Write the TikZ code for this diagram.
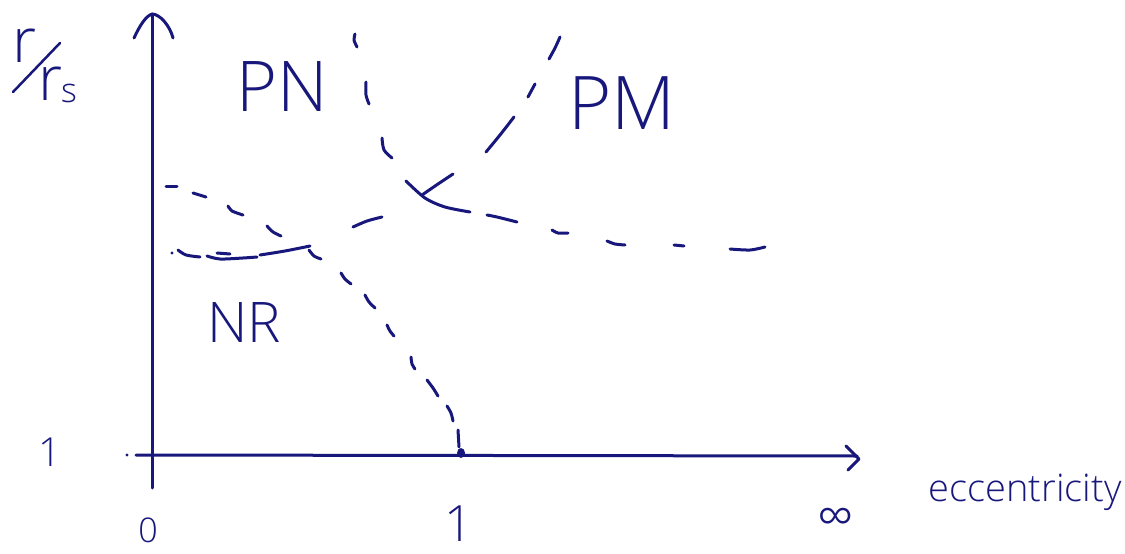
\documentclass[tikz,border=0pt]{standalone}
\usepackage{fontspec}
\setmainfont{Open Sans}[UprightFont={* Light}]
\definecolor{ink}{RGB}{24,24,124}
\begin{document}
\begin{tikzpicture}[x=1pt,y=-1pt,
  pen/.style={draw=ink,line width=3pt,line cap=round,line join=round},
  dsh/.style={pen},
  lbl/.style={text=ink,inner sep=0pt,anchor=center}]
\useasboundingbox (0,0) rectangle (1125,554);
% axes
\draw[pen] (152,488) -- (152,14);
\draw[pen] (134,38) .. controls (140,25) and (146,16) .. (152,14) .. controls (160,14) and (170,26) .. (173,38);
\draw[pen] (136,455) -- (857,456);
\draw[pen] (846,446) -- (859,459) -- (848,470);
\fill[ink] (127,455) circle (1.6);
\fill[ink] (461,453) ellipse (4 and 5);
% curve A (upper-left boundary and NR boundary)
\draw[dsh] (166,186) -- (177,186);
\draw[dsh] (193,193) -- (206,197);
\draw[dsh] plot[smooth] coordinates {(228,206) (232,211) (243,215)};
\draw[dsh] plot[smooth] coordinates {(267,226) (273,232) (281,236)};
\draw[dsh] plot[smooth] coordinates {(309,250) (314,256) (321,259)};
\draw[dsh] plot[smooth] coordinates {(341,273) (345,279) (351,284)};
\draw[dsh] plot[smooth] coordinates {(365,295) (369,302) (375,308)};
\draw[dsh] plot[smooth] coordinates {(387,325) (390,331) (394,336)};
\draw[dsh] plot[smooth] coordinates {(411,357) (412,364) (415,369)};
\draw[dsh] plot[smooth] coordinates {(427,380) (433,388) (438,396)};
\draw[dsh] plot[smooth] coordinates {(447,406) (451,413) (453,421)};
\draw[dsh] (458,430) -- (459,447);
% curve B (lower-left, then PN/PM boundary)
\fill[ink] (172,253) circle (1.6);
\draw[dsh] plot[smooth] coordinates {(178,250) (186,255) (200,257)};
\draw[dsh] plot[smooth] coordinates {(207,256) (220,259) (243,258) (257,257)};
\draw[dsh] (217,253) -- (230,254);
\draw[dsh] plot[smooth] coordinates {(260,255) (285,251) (310,246)};
\draw[dsh] plot[smooth] coordinates {(353,227) (367,221) (382,217)};
\draw[dsh] plot[smooth] coordinates {(422,195) (438,184) (453,174)};
\draw[dsh] plot[smooth] coordinates {(486,152) (500,135) (514,117)};
\draw[dsh] (528,97) -- (535,84);
\draw[dsh] plot[smooth] coordinates {(549,59) (555,48) (560,37)};
% curve C (PN/PM top, then PM lower boundary)
\draw[dsh] plot[smooth] coordinates {(355,34) (354,40) (357,47)};
\draw[dsh] plot[smooth] coordinates {(366,82) (366,95) (369,104)};
\draw[dsh] plot[smooth] coordinates {(382,138) (384,150) (392,158)};
\draw[dsh] plot[smooth] coordinates {(406,181) (425,198) (445,207) (470,212)};
\draw[dsh] plot[smooth] coordinates {(487,215) (497,217) (517,222)};
\draw[dsh] plot[smooth] coordinates {(552,230) (558,233) (568,233)};
\draw[dsh] plot[smooth] coordinates {(607,241) (615,244) (625,245)};
\draw[dsh] (674,245) -- (684,246);
\draw[dsh] plot[smooth] coordinates {(730,249) (750,250) (765,247)};
% labels
\node[lbl] (r1) at (25,46) {\fontsize{62}{62}\selectfont r};
\draw[pen,line width=2.5pt] (13,92) -- (60,43);
\node[lbl] (r2) at (51,84) {\fontsize{62}{62}\selectfont r};
\node[lbl] (s) at (69,93) {\fontsize{34}{34}\selectfont s};
\node[lbl] (PN) at (282,87) {\fontsize{70}{70}\selectfont PN};
\node[lbl] (PM) at (622,103) {\fontsize{74}{74}\selectfont PM};
\node[lbl] (NR) at (244,323) {\fontsize{56}{56}\selectfont NR};
\node[lbl] (one) at (50,452) {\fontsize{40}{40}\selectfont 1};
\node[lbl] (zero) at (148,530) {\fontsize{34}{34}\selectfont 0};
\node[lbl] (oneb) at (459,524) {\fontsize{50}{50}\selectfont 1};
\node[lbl] (inf) at (836,521) {\fontsize{52}{52}\selectfont ∞};
\node[lbl] (ecc) at (1025,492) {\fontsize{38}{38}\selectfont eccentricity};
\end{tikzpicture}
\end{document}
